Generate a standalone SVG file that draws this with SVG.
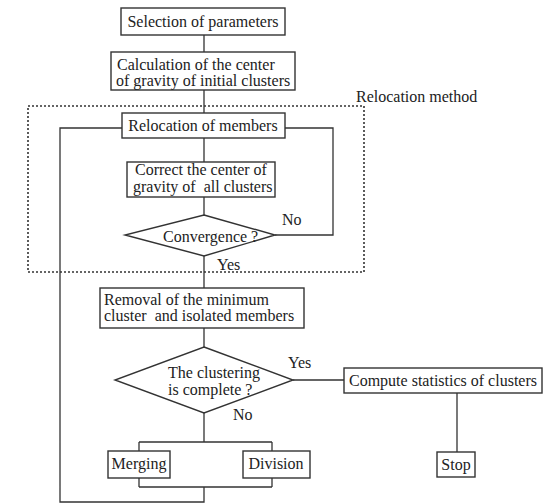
<svg xmlns="http://www.w3.org/2000/svg" width="548" height="504" viewBox="0 0 548 504">
<style>
.box{fill:#fff;stroke:#333;stroke-width:1.4}
.ln{fill:none;stroke:#333;stroke-width:1.3}
.dot{fill:none;stroke:#333;stroke-width:1.6;stroke-dasharray:2 2}
text{font-family:'Liberation Serif','DejaVu Serif','Noto Serif',serif;font-size:16px;fill:#222;white-space:pre}
.c{text-anchor:middle}
</style>
<rect width="548" height="504" fill="#fff"/>
<g id="connectors">
<path class="ln" d="M204 35V52M204 90V113M204 138V162M204 197V215M204 256V288M204 328V347"/>
<path class="ln" d="M275 235H333V128H285"/>
<path class="ln" d="M293 380H344M457 393V452"/>
<path class="ln" d="M204 413V442M139 442H272M139 442V451M272 442V451M139 478V487M272 478V487M139 487H272M204 487V502H60V128H122"/>
</g>
<g id="relocation-method">
<rect class="dot" x="28" y="106" width="336" height="166"/>
<text x="356" y="102">Relocation method</text>
</g>
<g id="selection">
<rect class="box" x="121" y="8" width="164" height="27"/>
<text class="c" x="203" y="27">Selection of parameters</text>
</g>
<g id="calculation">
<rect class="box" x="111" y="52" width="184" height="38"/>
<text x="117" y="70">Calculation of the center</text>
<text x="116" y="86">of gravity of initial clusters</text>
</g>
<g id="relocation">
<rect class="box" x="122" y="113" width="163" height="25"/>
<text class="c" x="203" y="131">Relocation of members</text>
</g>
<g id="correct">
<rect class="box" x="127" y="162" width="148" height="35"/>
<text x="135" y="175">Correct the center of</text>
<text x="133" y="192" xml:space="preserve">gravity of  all clusters</text>
</g>
<g id="convergence">
<polygon class="box" points="204,215 275,235 204,256 125,235"/>
<text x="163" y="242">Convergence ?</text>
<text x="282" y="225">No</text>
<text x="217" y="270">Yes</text>
</g>
<g id="removal">
<rect class="box" x="100" y="288" width="204" height="40"/>
<text x="104" y="305">Removal of the minimum</text>
<text x="104" y="321" xml:space="preserve">cluster  and isolated members</text>
</g>
<g id="complete">
<polygon class="box" points="204,347 293,380 204,413 115,380"/>
<text x="168" y="378">The clustering</text>
<text x="168" y="395">is complete ?</text>
<text x="288" y="368">Yes</text>
<text x="233" y="420">No</text>
</g>
<g id="statistics">
<rect class="box" x="344" y="368" width="198" height="25"/>
<text class="c" x="443" y="386">Compute statistics of clusters</text>
</g>
<g id="stop">
<rect class="box" x="437" y="452" width="38" height="25"/>
<text class="c" x="456" y="470">Stop</text>
</g>
<g id="merging">
<rect class="box" x="108" y="451" width="62" height="27"/>
<text class="c" x="139" y="469">Merging</text>
</g>
<g id="division">
<rect class="box" x="243" y="451" width="67" height="27"/>
<text class="c" x="276" y="469">Division</text>
</g>
</svg>
